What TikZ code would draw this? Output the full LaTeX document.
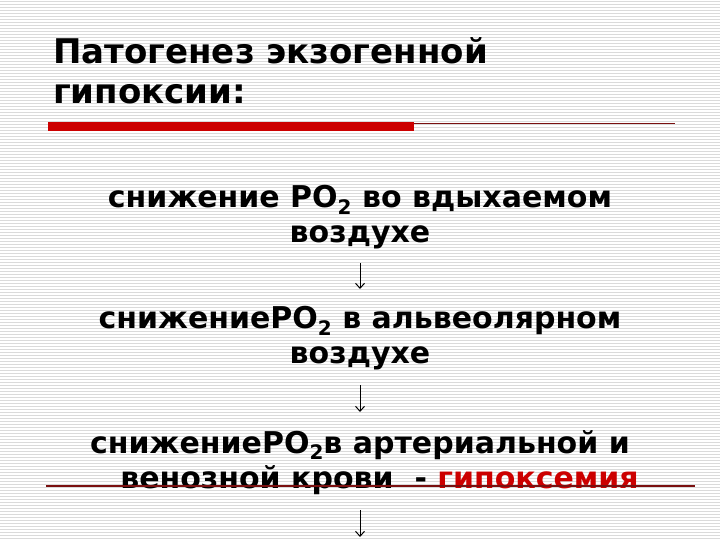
\documentclass[tikz,border=0pt]{standalone}
\usepackage{fontspec}
\setmainfont{DejaVu Sans}
\usetikzlibrary{arrows.meta}
\definecolor{barred}{HTML}{CC0000}
\definecolor{linered}{HTML}{7A1010}
\definecolor{stripe}{HTML}{DADADA}
\newcommand\subtwo{\raisebox{-0.4ex}{\fontsize{20}{20}\selectfont 2}}
\tikzset{
  titletext/.style={anchor=north west, align=left, inner sep=0pt, font=\bfseries\fontsize{34}{40}\selectfont},
  bodytext/.style={anchor=north, align=center, inner sep=0pt, font=\bfseries\fontsize{30}{35}\selectfont},
  flow/.style={line width=1pt, -{Straight Barb[length=5pt,width=9pt]}},
  thinrule/.style={linered, line width=1.2pt}
}
\begin{document}
\begin{tikzpicture}[x=1pt,y=-1pt]
\useasboundingbox (0,0) rectangle (720,540);
\fill[white] (0,0) rectangle (720,540);
\foreach \k in {0,...,179} {\draw[stripe, line width=1pt] (0,3*\k+1.5) -- (720,3*\k+1.5);}
% title
\node[titletext] (title) at (53,37) {Патогенез экзогенной\\гипоксии:};
% rule under title
\fill[barred] (48,122) rectangle (414,131);
\coordinate (r1a) at (414,123.5);
\coordinate (r1b) at (675,123.5);
\draw[thinrule] (r1a) -- (r1b);
% body blocks
\node[bodytext] (b1) at (360,185) {снижение PO\subtwo{} во вдыхаемом\\воздухе};
\node[bodytext] (b2) at (360,306) {снижениеPO\subtwo{} в альвеолярном\\воздухе};
\node[bodytext] (b3) at (360,430) {снижениеPO\subtwo{}в артериальной и\\\hspace*{1.3em}венозной крови\ \ - \textcolor{barred}{гипоксемия}};
% lower rule
\coordinate (r2a) at (46,486);
\coordinate (r2b) at (695,486);
\draw[thinrule] (r2a) -- (r2b);
% arrows
\coordinate (a1s) at (360,263);
\coordinate (a1e) at (360,289);
\coordinate (a2s) at (360,385);
\coordinate (a2e) at (360,412);
\coordinate (a3s) at (360,510);
\coordinate (a3e) at (360,537);
\draw[flow] (a1s) -- (a1e);
\draw[flow] (a2s) -- (a2e);
\draw[flow] (a3s) -- (a3e);
\end{tikzpicture}
\end{document}
